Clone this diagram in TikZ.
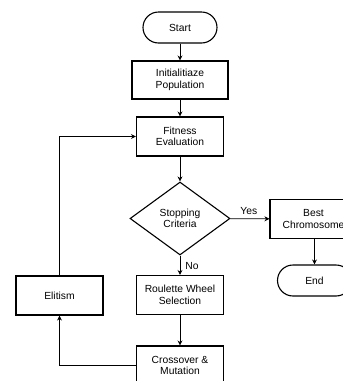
\documentclass[tikz,border=0pt]{standalone}
\usepackage{fontspec}
\setmainfont{Liberation Sans}
\usetikzlibrary{shapes.geometric,arrows.meta}

\begin{document}
\begin{tikzpicture}[x=1pt,y=-1pt,
    every node/.style={font=\fontsize{10.3}{11.5}\selectfont, align=center, inner sep=0pt},
    box/.style={draw, line width=1.1pt, minimum width=87pt, minimum height=39pt},
    terminal/.style={draw, line width=1.1pt, rounded corners=15.5pt, minimum width=74pt, minimum height=31pt},
    decision/.style={draw, diamond, line width=1.1pt, aspect=1.37, minimum width=100pt, minimum height=73pt},
    flow/.style={-{Stealth[length=5pt,width=5pt]}, line width=0.7pt}]
    \useasboundingbox (0,0) rectangle (343,381);
    \clip (0,0) rectangle (343,381);

    % Main column
    \node[terminal] (start) at (180,27.5) {Start};
    \node[box, minimum width=96pt, minimum height=38pt] (init) at (180,80) {Initialitiaze\\Population};
    \node[box] (fitness) at (180,136.5) {Fitness\\Evaluation};
    \node[decision] (stop) at (180,218.5) {Stopping\\Criteria};
    \node[box] (roulette) at (180,295) {Roulette Wheel\\Selection};
    \node[box] (cross) at (180,365.5) {Crossover \&\\Mutation};

    % Exit branch
    \node[box] (best) at (313.5,219) {Best\\Chromosome};
    \node[terminal] (end) at (314.5,280.5) {End};

    % Loop back
    \node[box] (elitism) at (59.5,295.5) {Elitism};

    % Connectors
    \draw[flow] (start) -- (init);
    \draw[flow] (init) -- (fitness);
    \draw[flow] (fitness) -- (stop);
    \draw[flow] (stop) -- node[above=4pt, xshift=-1pt] (yes) {Yes} (best);
    \draw[flow] (stop) -- node[right=5pt, yshift=-1pt] (no) {No} (roulette);
    \draw[flow] (roulette) -- (cross);
    \draw[flow] (best.south -| end.north) -- (end);
    \draw[flow] (cross.west) -| (elitism.south);
    \draw[flow] (elitism.north) |- (fitness.west);
\end{tikzpicture}
\end{document}
